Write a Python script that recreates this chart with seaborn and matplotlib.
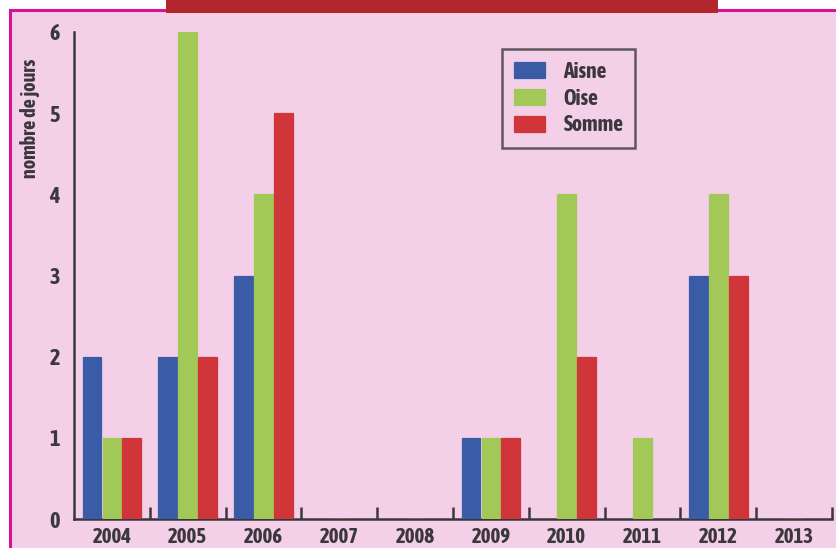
import matplotlib
matplotlib.use("Agg")
import matplotlib.pyplot as plt
from matplotlib.patches import Rectangle
from matplotlib.ticker import FixedLocator
from matplotlib import font_manager
import seaborn as sns
import pandas as pd

years = ["2004", "2005", "2006", "2007", "2008", "2009", "2010", "2011", "2012", "2013"]
aisne = [2, 2, 3, 0, 0, 1, 0, 0, 3, 0]
oise = [1, 6, 4, 0, 0, 1, 4, 1, 4, 0]
somme = [1, 2, 5, 0, 0, 1, 2, 0, 3, 0]
departements = ["Aisne", "Oise", "Somme"]
colors = ["#3a5ba5", "#a2c857", "#cf3539"]
y_ticks = [0, 1, 2, 3, 4, 5, 6]

df = pd.DataFrame({
    "year": years * 3,
    "dep": [d for d in departements for _ in years],
    "jours": aisne + oise + somme,
})

sns.set_theme(style="white")


def _weight(w):
    if isinstance(w, str):
        return font_manager.weight_dict.get(w, 400)
    return int(w)


# pick a bold narrow/condensed face when one is installed
cands = []
for f in font_manager.fontManager.ttflist:
    narrowish = ("Narrow" in f.name or "Condensed" in f.name
                 or str(f.stretch) in ("condensed", "semi-condensed", "extra-condensed"))
    if narrowish and f.style == "normal" and _weight(f.weight) >= 600:
        cands.append(f)
cands.sort(key=lambda f: (abs(_weight(f.weight) - 700), f.name))
if cands:
    FP = dict(fname=cands[0].fname)
else:
    FP = dict(family="DejaVu Sans", weight="bold")


def fp(size):
    return font_manager.FontProperties(size=size, **FP)


W, H = 837, 548
fig = plt.figure(figsize=(W / 100, H / 100), dpi=100, facecolor="white")

# pink panel with magenta frame, and the red band on top
fig.patches.append(Rectangle((10 / W, -0.01), 1, 1.01 - 10 / H, transform=fig.transFigure,
                             facecolor="#f4cfe8", edgecolor="#d6129a", linewidth=2.2,
                             zorder=-2))
fig.patches.append(Rectangle((166 / W, 1 - 13 / H), (718 - 166) / W, 13 / H,
                             transform=fig.transFigure, facecolor="#b3262e",
                             edgecolor="none", zorder=-1))

ax = fig.add_axes([74 / W, 29 / H, 758 / W, (519 - 32) / H])
ax.set_facecolor("none")

sns.barplot(data=df, x="year", y="jours", hue="dep", order=years,
            hue_order=departements, palette=colors, width=0.79, gap=0.06,
            saturation=1, ax=ax, legend=True)
for p in ax.patches:
    p.set_edgecolor(p.get_facecolor())
    p.set_linewidth(0.9)
    p.set_zorder(3)

ink = "#3b383d"
ax.set_xlim(-0.5, 9.5)
ax.set_ylim(0, 6)
ax.set_yticks(y_ticks)
ax.set_xlabel("")
ax.set_ylabel("")
for s in ["top", "right"]:
    ax.spines[s].set_visible(False)
for s in ["left", "bottom"]:
    ax.spines[s].set_color(ink)
    ax.spines[s].set_linewidth(1.8)
    ax.spines[s].set_zorder(2)

ax.tick_params(axis="y", direction="in", length=14, width=1.8, color=ink,
               labelcolor=ink, pad=10)
ax.tick_params(axis="x", which="major", length=0, labelcolor=ink, pad=6)
ax.xaxis.set_minor_locator(FixedLocator([i + 0.5 for i in range(len(years))]))
ax.tick_params(axis="x", which="minor", direction="in", length=9, width=1.8,
               color=ink, bottom=True)
for t in ax.get_yticklabels():
    t.set_fontproperties(fp(16))
for t in ax.get_xticklabels():
    t.set_fontproperties(fp(15))

fig.text(30 / W, 1 - 59 / H, "nombre de jours", rotation=90, ha="center",
         va="top", fontproperties=fp(14.5), color=ink)

leg = ax.legend(loc="upper left", bbox_to_anchor=(502 / W, 1 - 49 / H),
                bbox_transform=fig.transFigure, frameon=True, fancybox=False,
                prop=fp(15.5), handlelength=1.45, handleheight=0.75,
                labelspacing=0.22, handletextpad=0.85, borderpad=0.55,
                borderaxespad=0)
leg.get_frame().set_edgecolor(ink)
leg.get_frame().set_linewidth(1.8)
leg.get_frame().set_facecolor("#f4cfe8")
for t in leg.get_texts():
    t.set_color(ink)
leg.set_title(None)

fig.savefig("out.png", dpi=100, facecolor="white")
